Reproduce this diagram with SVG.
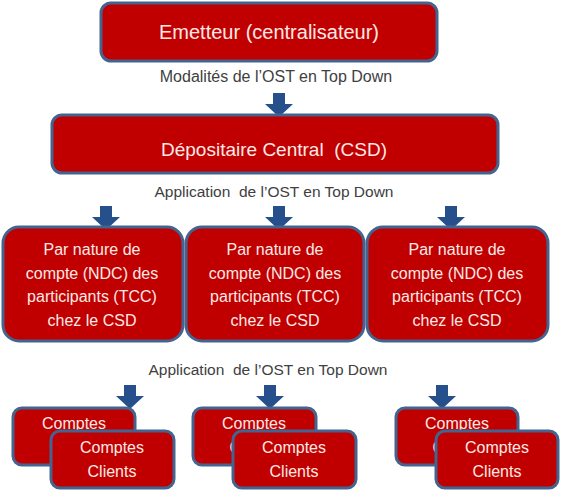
<svg xmlns="http://www.w3.org/2000/svg" xmlns:xlink="http://www.w3.org/1999/xlink" width="561" height="492" viewBox="0 0 561 492">
<style>
.box{fill:#c00000;stroke:#44648f;stroke-width:3}
.bt{font-family:"Liberation Sans",Arial,sans-serif;fill:#fde9e6;text-anchor:middle}
.lbl{font-family:"Liberation Sans",Arial,sans-serif;fill:#404040;font-size:15.5px;text-anchor:middle}
.arr{fill:#25508c}
</style>
<defs>
<path id="darrow" class="arr" d="M-6,0 H6 V11 H14 L0,24 L-14,11 H-6 Z"/>
</defs>
<rect width="561" height="492" fill="#ffffff"/>

<g id="connectors">
<use xlink:href="#darrow" href="#darrow" transform="translate(279,93)"/>
<use xlink:href="#darrow" href="#darrow" transform="translate(106,206)"/>
<use xlink:href="#darrow" href="#darrow" transform="translate(279,206)"/>
<use xlink:href="#darrow" href="#darrow" transform="translate(451,206)"/>
<use xlink:href="#darrow" href="#darrow" transform="translate(130,385)"/>
<use xlink:href="#darrow" href="#darrow" transform="translate(270,385)"/>
<use xlink:href="#darrow" href="#darrow" transform="translate(442,385)"/>
</g>

<g id="labels">
<text class="lbl" x="276" y="82" style="font-size:16px">Modalités de l’OST en Top Down</text>
<text class="lbl" x="274" y="197" xml:space="preserve">Application  de l’OST en Top Down</text>
<text class="lbl" x="268" y="375" xml:space="preserve">Application  de l’OST en Top Down</text>
</g>

<g id="emetteur">
<rect class="box" x="101" y="3" width="336" height="58" rx="10"/>
<text class="bt" x="269" y="39" font-size="20">Emetteur (centralisateur)</text>
</g>

<g id="csd">
<rect class="box" x="52" y="115" width="446" height="58" rx="10"/>
<text class="bt" x="274" y="156" font-size="19" xml:space="preserve">Dépositaire Central  (CSD)</text>
</g>

<g id="ndc1">
<rect class="box" x="3" y="227" width="180" height="114" rx="16"/>
<text class="bt" font-size="16" x="92"><tspan x="92" y="255">Par nature de</tspan><tspan x="92" y="278.5">compte (NDC) des</tspan><tspan x="92" y="302">participants (TCC)</tspan><tspan x="92" y="325.5">chez le CSD</tspan></text>
</g>
<g id="ndc2">
<rect class="box" x="186" y="227" width="178" height="114" rx="16"/>
<text class="bt" font-size="16" x="275"><tspan x="275" y="255">Par nature de</tspan><tspan x="275" y="278.5">compte (NDC) des</tspan><tspan x="275" y="302">participants (TCC)</tspan><tspan x="275" y="325.5">chez le CSD</tspan></text>
</g>
<g id="ndc3">
<rect class="box" x="367" y="227" width="181" height="114" rx="16"/>
<text class="bt" font-size="16" x="457"><tspan x="457" y="255">Par nature de</tspan><tspan x="457" y="278.5">compte (NDC) des</tspan><tspan x="457" y="302">participants (TCC)</tspan><tspan x="457" y="325.5">chez le CSD</tspan></text>
</g>

<g id="comptes1-back">
<rect class="box" x="13" y="408" width="122" height="57" rx="9"/>
<text class="bt" font-size="16"><tspan x="74" y="429">Comptes</tspan><tspan x="74" y="453">Clients</tspan></text>
</g>
<g id="comptes1-front">
<rect class="box" x="51" y="431" width="123" height="57" rx="9"/>
<text class="bt" font-size="16"><tspan x="112" y="453">Comptes</tspan><tspan x="112" y="477">Clients</tspan></text>
</g>

<g id="comptes2-back">
<rect class="box" x="193" y="408" width="123" height="57" rx="9"/>
<text class="bt" font-size="16"><tspan x="254" y="429">Comptes</tspan><tspan x="254" y="453">Clients</tspan></text>
</g>
<g id="comptes2-front">
<rect class="box" x="233" y="431" width="123" height="57" rx="9"/>
<text class="bt" font-size="16"><tspan x="294" y="453">Comptes</tspan><tspan x="294" y="477">Clients</tspan></text>
</g>

<g id="comptes3-back">
<rect class="box" x="396" y="408" width="122" height="57" rx="9"/>
<text class="bt" font-size="16"><tspan x="457" y="429">Comptes</tspan><tspan x="457" y="453">Clients</tspan></text>
</g>
<g id="comptes3-front">
<rect class="box" x="436" y="431" width="122" height="57" rx="9"/>
<text class="bt" font-size="16"><tspan x="497" y="453">Comptes</tspan><tspan x="497" y="477">Clients</tspan></text>
</g>
</svg>
